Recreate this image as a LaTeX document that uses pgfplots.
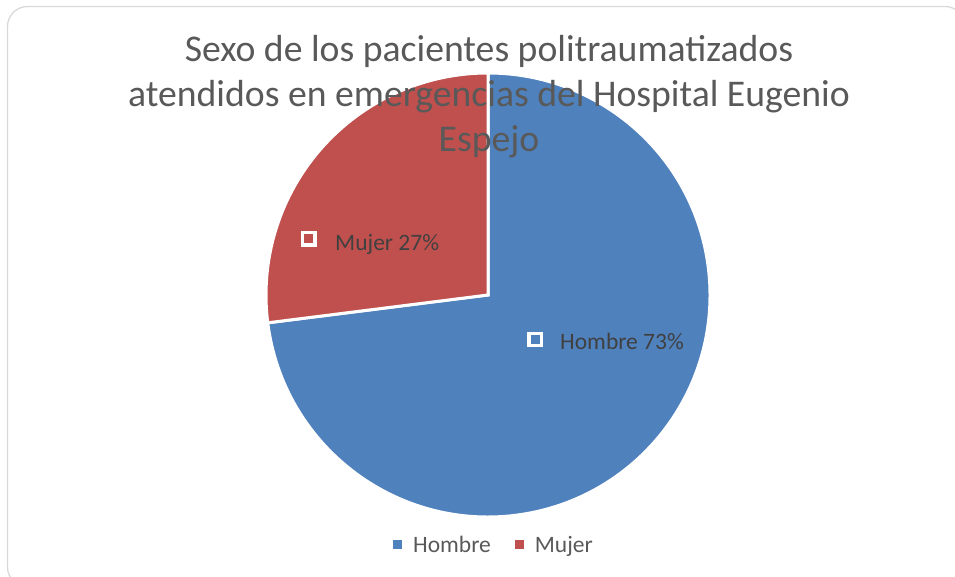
\documentclass[border=0pt]{standalone}
\usepackage{pgfplots}
\usepackage{pgfplotstable}
\pgfplotsset{compat=1.18}
\usepackage{fontspec}
\setmainfont{Carlito}
\definecolor{hombre}{HTML}{4F81BD}
\definecolor{mujer}{HTML}{C0504D}
\definecolor{titlegray}{HTML}{595959}
\definecolor{labelgray}{HTML}{404040}
\definecolor{framegray}{HTML}{D9D9D9}
\pgfplotstableread{
sexo value
Hombre 73
Mujer 27
}\piedata
\begin{document}
\begin{tikzpicture}
\path[use as bounding box] (0,0) rectangle (955bp,577bp);
\pgfplotstablegetelem{0}{value}\of\piedata \let\vH\pgfplotsretval
\pgfplotstablegetelem{1}{value}\of\piedata \let\vM\pgfplotsretval
\pgfmathsetmacro\angM{90+360*\vM/(\vH+\vM)}
\begin{axis}[
  at={(0,0)}, anchor=south west,
  scale only axis, width=955bp, height=577bp,
  xmin=0, xmax=955, ymin=0, ymax=577,
  hide axis, clip=false,
  legend style={at={(axis cs:494,32)}, anchor=center, draw=none, fill=none,
    legend columns=2, font=\fontsize{23.5bp}{28bp}\selectfont, text=titlegray,
    /tikz/every odd column/.append style={column sep=9bp},
    /tikz/every even column/.append style={column sep=22bp}},
  legend cell align=left,
  legend image code/.code={\path[#1] (0bp,-4.5bp) rectangle (9bp,4.5bp);},
]
% frame
\draw[framegray, line width=1.3bp, rounded corners=20bp]
  (axis cs:7.5,570.5) rectangle (axis cs:965,-10);
% pie slices
\filldraw[fill=hombre, draw=white, line width=3bp]
  (axis cs:488,282) -- ++(\angM:222bp) arc[start angle=\angM, end angle=450, radius=222bp] -- cycle;
\filldraw[fill=mujer, draw=white, line width=3bp]
  (axis cs:488,282) -- ++(90:222bp) arc[start angle=90, end angle=\angM, radius=222bp] -- cycle;
% data label markers
\addplot[only marks, mark=square, mark size=6.2bp, mark options={draw=white, line width=3.4bp}, forget plot]
  coordinates {(308.8,338) (535.3,237.5)};
% data labels
\node[anchor=base west, inner sep=0pt, text=labelgray, font=\fontsize{23.5bp}{28bp}\selectfont] at (axis cs:335,326) {Mujer 27\%};
\node[anchor=base west, inner sep=0pt, text=labelgray, font=\fontsize{23.5bp}{28bp}\selectfont] at (axis cs:560,227) {Hombre 73\%};
% title
\node[anchor=base, inner sep=0pt, text=titlegray, font=\fontsize{37.7bp}{45bp}\selectfont] at (axis cs:489,515) {Sexo de los pacientes politraumatizados};
\node[anchor=base, inner sep=0pt, text=titlegray, font=\fontsize{37.7bp}{45bp}\selectfont] at (axis cs:489,470) {atendidos en emergencias del Hospital Eugenio};
\node[anchor=base, inner sep=0pt, text=titlegray, font=\fontsize{37.7bp}{45bp}\selectfont] at (axis cs:489,425) {Espejo};
% legend
\addlegendimage{fill=hombre, draw=none}
\addlegendentry{Hombre}
\addlegendimage{fill=mujer, draw=none}
\addlegendentry{Mujer}
\end{axis}
\end{tikzpicture}
\end{document}
